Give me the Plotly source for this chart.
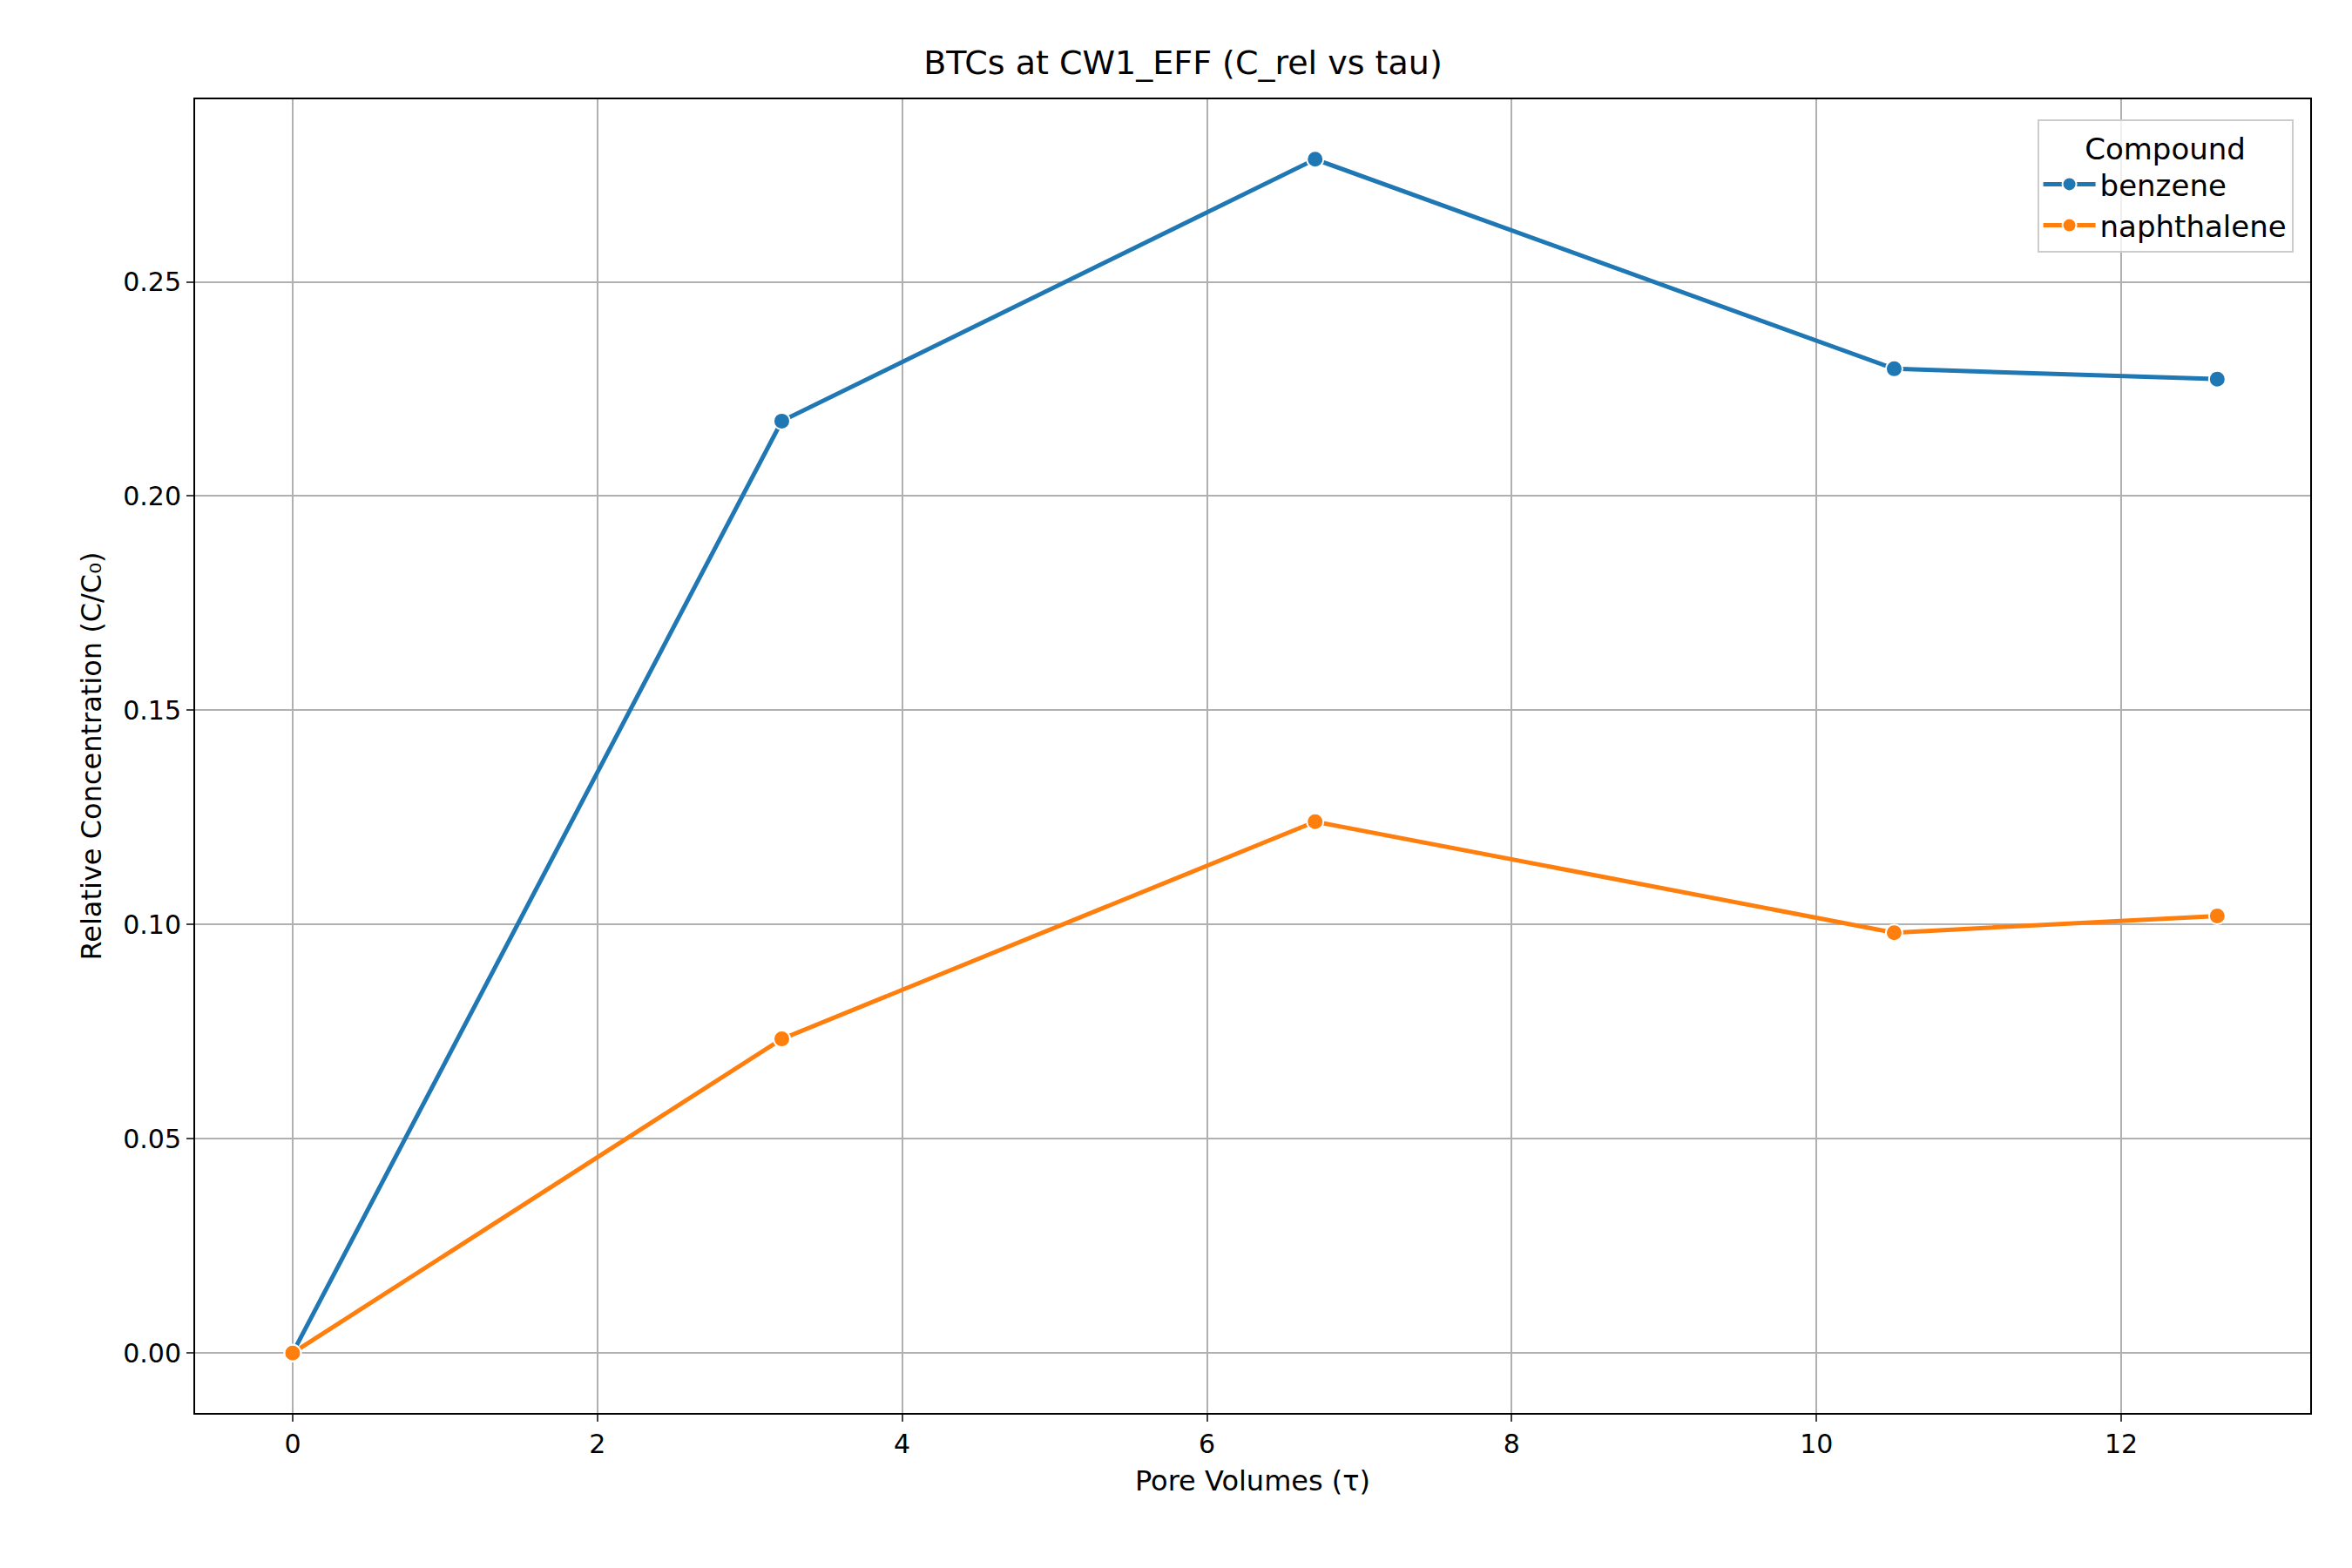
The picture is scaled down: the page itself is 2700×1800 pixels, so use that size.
import plotly.graph_objects as go

tau = [0, 3.21, 6.71, 10.51, 12.63]
benzene = [0, 0.2175, 0.2786, 0.2297, 0.2273]
naphthalene = [0, 0.0733, 0.124, 0.0981, 0.102]
series = [("benzene", benzene, "#1f77b4"), ("naphthalene", naphthalene, "#ff7f0e")]

fig = go.Figure()
for name, vals, col in series:
    fig.add_trace(go.Scatter(x=tau, y=vals, name=name, mode="lines+markers",
                             line=dict(color=col, width=5),
                             marker=dict(color=col, size=19, line=dict(color="white", width=2))))

font = "DejaVu Sans"
fig.update_layout(
    width=2700, height=1800, paper_bgcolor="white", plot_bgcolor="white",
    margin=dict(l=216, r=56, t=106, b=186),
    font=dict(family=font, size=30, color="black"),
    title=dict(text="BTCs at CW1_EFF (C_rel vs tau)", x=0.5, xanchor="center", y=0.972, font=dict(size=38)),
    legend=dict(title=dict(text="Compound", side="top center", font=dict(size=34)), x=0.992, xanchor="right", y=0.985, yanchor="top",
                bordercolor="#cccccc", borderwidth=2, bgcolor="rgba(255,255,255,0.8)", font=dict(size=34),
                itemwidth=60),
)
ax = dict(showline=True, linecolor="black", linewidth=2, mirror=True, showgrid=True,
          gridcolor="#b0b0b0", gridwidth=2, ticks="outside", ticklen=8, tickwidth=2, zeroline=False,
          tickfont=dict(size=30))
fig.update_xaxes(**ax, range=[-0.64, 13.24], tickvals=[0, 2, 4, 6, 8, 10, 12],
                 title=dict(text="Pore Volumes (τ)", standoff=15, font=dict(size=32)))
fig.update_yaxes(**ax, range=[-0.014, 0.2926], tickvals=[0, 0.05, 0.1, 0.15, 0.2, 0.25], tickformat=".2f",
                 title=dict(text="Relative Concentration (C/C₀)", standoff=15, font=dict(size=32)))
fig.write_html("out.html")
